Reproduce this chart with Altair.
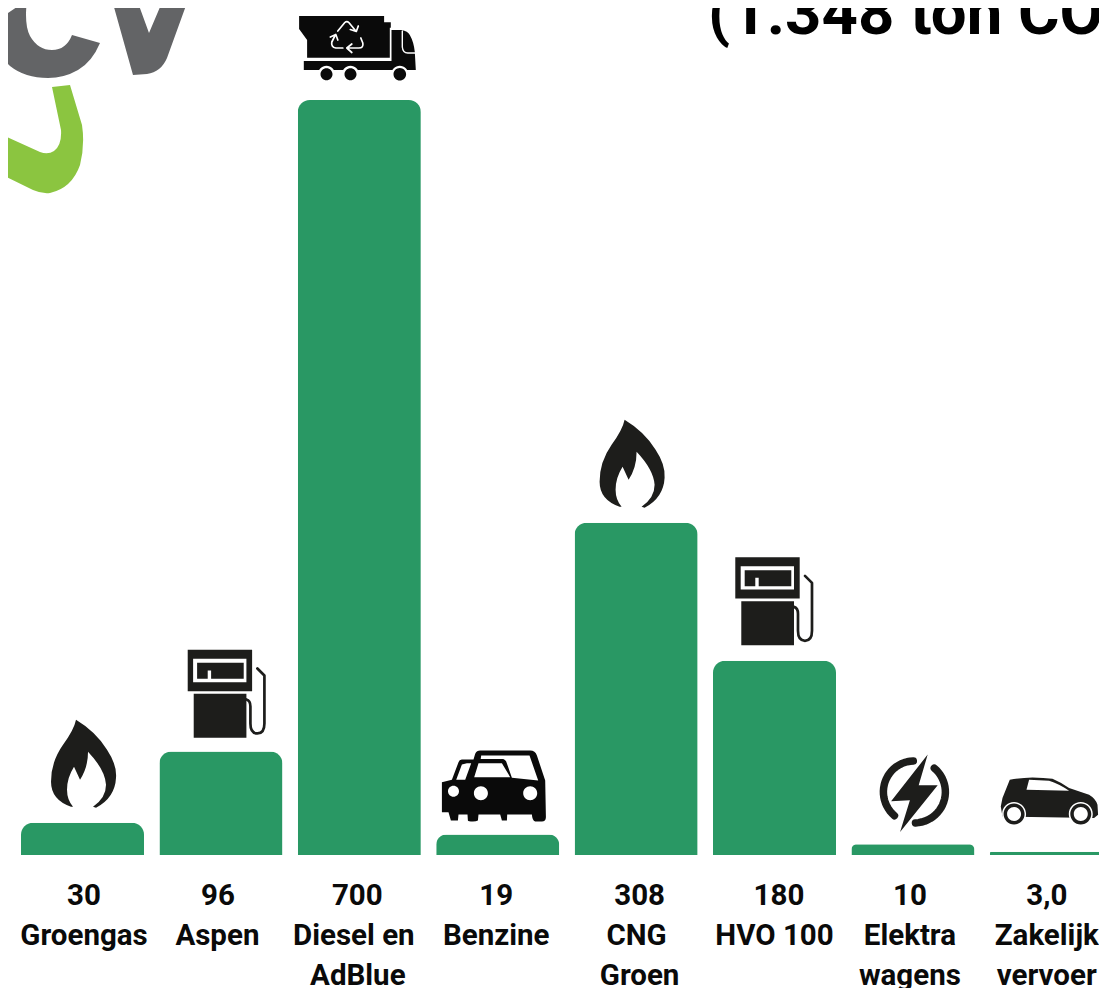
import math
import re
import altair as alt
import pandas as pd

# ---- chart values ----
categories = ["Groengas", "Aspen", "Diesel en AdBlue", "Benzine", "CNG Groen", "HVO 100", "Elektra wagens", "Zakelijk vervoer"]
values = [30, 96, 700, 19, 308, 180, 10, 3.0]
value_labels = ["30", "96", "700", "19", "308", "180", "10", "3,0"]
line_one = ["Groengas", "Aspen", "Diesel en", "Benzine", "CNG", "HVO 100", "Elektra", "Zakelijk"]
line_two = ["", "", "AdBlue", "", "Groen", "", "wagens", "vervoer"]
title_text = "(1.348 ton CO"

# ---- layout and style ----
GREEN = "#299864"
INK = "#1d1d1b"
BLACK = "#0a0a0a"
FONT = "Roboto"
MARGIN = 8
W, H = 1091, 980
BASE_Y, TOP_Y = 855 - MARGIN, 100 - MARGIN
DX_VALUE = [1.5, -3, -2, -1.5, 3.5, 4.5, -3, -4.5]
DX_ONE = [1.5, -3.5, -5.5, -1.5, 0.5, 0, -3, -4.5]
DX_TWO = [0, 0, -1.5, 0, 3.5, 0, -3, -4.5]
BASELINES = [905 - MARGIN, 945 - MARGIN, 985 - MARGIN]

df = pd.DataFrame({"cat": categories, "val": values})
x_enc = alt.X("cat:N", axis=None, sort=None, scale=alt.Scale(type="band", domain=categories, range=[13, 1104.8], paddingInner=0.111, paddingOuter=0))
y_enc = alt.Y("val:Q", axis=None, scale=alt.Scale(domain=[0, 700], range=[BASE_Y, TOP_Y], nice=False, zero=True))


def shift(path, ox, oy):
    out, is_x = [], True
    for tok in re.findall(r"[A-Za-z]|-?\d+\.?\d*", path):
        if tok.isalpha():
            out.append(tok)
            is_x = True
        else:
            out.append(f"{float(tok) - (ox if is_x else oy):.2f}")
            is_x = not is_x
    return " ".join(out)


def circle(cx, cy, r, ccw=False):
    k = 0.5523 * r
    s = -1 if ccw else 1
    return (f"M{cx},{cy - r} C{cx + s * k},{cy - r} {cx + s * r},{cy - k} {cx + s * r},{cy} "
            f"C{cx + s * r},{cy + k} {cx + s * k},{cy + r} {cx},{cy + r} "
            f"C{cx - s * k},{cy + r} {cx - s * r},{cy + k} {cx - s * r},{cy} "
            f"C{cx - s * r},{cy - k} {cx - s * k},{cy - r} {cx},{cy - r} Z ")


def arc(cx, cy, r, a0, a1, n=24):
    pts = []
    for i in range(n + 1):
        a = math.radians(a0 + (a1 - a0) * i / n)
        pts.append(f"{cx + r * math.cos(a):.2f},{cy + r * math.sin(a):.2f}")
    return "M" + " L".join(pts)


def icon(cat, path, origin, color=INK, dx=0, dy=0, stroke=None):
    shape = shift(path, *origin)
    kw = dict(shape=shape, size=4, opacity=1, color=color, xOffset=dx, yOffset=dy)
    if stroke:
        mark = alt.Chart(df[df.cat == cat]).mark_point(filled=False, strokeWidth=stroke, strokeCap="round", strokeJoin="round", **kw)
    else:
        mark = alt.Chart(df[df.cat == cat]).mark_point(filled=True, strokeWidth=0, **kw)
    return mark.encode(x=x_enc, y=y_enc)


def free_shape(path, color, stroke=None):
    shape = shift(path, MARGIN, MARGIN)
    return alt.Chart(pd.DataFrame({"a": [0]})).mark_point(filled=True, shape=shape, size=4, opacity=1, color=color, strokeWidth=0).encode(x=alt.value(0), y=alt.value(0))


layers = []

# logo
logo_c = "M-2,20 L27,0 Q24,25 30,36 Q38,50 52,50 Q66,50 72,35 L100,43 Q92,62 78,70 Q64,78 48,78 Q25,78 10,66 Q-2,55 -2,20 Z M72,0 L73,6 L88,0 Z"
logo_v = "M112,0 L137,0 L149,33 L163,0 L188,0 L167,58 Q161,72 147,74 L133,75 Z"
logo_g = "M52,87 L70,85 L82,125 Q85,145 80,165 Q72,188 50,193 Q42,194 33,190 L-4,172 L-4,132 L40,152 Q48,155 54,151 Q62,145 61,130 Z"
layers += [free_shape(logo_c + " " + logo_v, "#636466"), free_shape(logo_g, "#8bc540")]

# bars
layers.append(alt.Chart(df).mark_bar(color=GREEN, cornerRadiusTopLeft=12, cornerRadiusTopRight=12).encode(x=x_enc, y=y_enc))

# flame
flame = ("M625,420 Q645,432 656,450 Q666,465 665,478 Q664,498 645,508 L642,507 Q655,498 655,485 Q654,470 637,452 "
         "Q637,468 629,480 L623,467 Q616,478 616,490 Q616,500 622,507 L620,507 Q600,500 600,482 Q600,462 612,445 Q623,430 625,420 Z")
flame_o = (636.5, 523)
layers += [icon("CNG Groen", flame, flame_o), icon("Groengas", flame, flame_o, dx=5)]

# pump
def rect(x0, y0, x1, y1, ccw=False):
    if ccw:
        return f"M{x0},{y0} L{x0},{y1} L{x1},{y1} L{x1},{y0} Z "
    return f"M{x0},{y0} L{x1},{y0} L{x1},{y1} L{x0},{y1} Z "

pump = (rect(187.3, 649.3, 251.7, 690.7) + rect(192.7, 658.3, 246, 681.7, ccw=True) +
        "M196.7,662.3 L243.3,662.3 L243.3,678.3 L210.7,678.3 L210.7,670 L207.3,670 L207.3,678.3 L196.7,678.3 Z " +
        rect(193.3, 693.3, 246, 737.3))
hose = "M246,699 Q250,700 250,706 L250,723 Q250,733 257,733 Q264,733 264,723 L264,675 L257,668"
pump_o = (220.5, 751)
for cat, dx, dy in [("Aspen", 0, 0), ("HVO 100", -6, -2)]:
    layers += [icon(cat, pump, pump_o, dx=dx, dy=dy), icon(cat, hose, pump_o, dx=dx, dy=dy, stroke=2.7)]

# truck
truck_o = (359.5, 100)
truck = ("M299.3,16 L384.3,16 L384.3,22.3 L391,22.3 L391,27.7 L390,27.7 L390,57.7 L307.3,57.7 L307.3,40 L299.3,29 Z "
         "M391.7,30 L401.7,30 Q408,31 410,35 Q414,42 415,52 L416,70 L304,70 L304,61 L391.7,61 Z")
layers.append(icon("Diesel en AdBlue", truck, truck_o, color=BLACK))
layers.append(icon("Diesel en AdBlue", "M402.5,31 L402.5,47 Q403,53 408,53 L415.5,53", truck_o, color="#ffffff", stroke=1.4))
halo = circle(326.7, 74.3, 8.5) + circle(350.7, 74.3, 8.5) + circle(400, 74.3, 8.5)
wheels = circle(326.7, 74.3, 6) + circle(350.7, 74.3, 6) + circle(400, 74.3, 6.3)
layers.append(icon("Diesel en AdBlue", halo, truck_o, color="#ffffff"))
layers.append(icon("Diesel en AdBlue", wheels, truck_o, color=BLACK))
recycle = ("M338,31 L345,22.5 Q347,20.5 349,22.5 L356,31 M350.5,29.5 L356.5,31.5 L358.5,26 "
           "M361,38 L363,43 Q364,48 359,48 L348,48 M352,44 L347,48 L352,52.5 "
           "M343,48 L336,48 Q331,47 332,42 L335,36 M330.5,37 L336,34.5 L338,40")
layers.append(icon("Diesel en AdBlue", recycle, truck_o, color="#ffffff", stroke=1.7))

# two cars
cars_o = (497.5, 834)
cars = ("M441.7,781.7 L451.7,779.3 L458.3,761.7 Q459,759 461.7,759 L473.3,759 L475,753.3 Q476.5,750 480,750 L530,750 Q535,750 536.7,755 "
        "L545,780 L545.7,816.7 Q545.5,821 541.7,821 L535,821 Q532,820 531.7,814 L507,814 L506.7,820 L501.7,820 L500,814 L478.3,814 L477.7,820 "
        "Q476,821 472.7,821 Q468,821 467.7,820 L467.3,814 L458.3,814 L457.7,820 L450.7,820 L448.3,811.7 L441.7,811.7 Z "
        "M466.7,762.7 L461.7,764 L456,779.3 L465,779.3 L471,762.7 Z "
        "M478.3,762.7 L474,776.7 L510,776.7 L501.7,762.7 Z "
        "M481,755 L480.5,758.5 L503,758.5 Q505,759 506,761 L511.7,777.3 L538,780 L529.3,755 Z " +
        circle(453.3, 790.7, 5.5, ccw=True) + circle(480.7, 792.7, 7, ccw=True) + circle(530, 792.7, 7, ccw=True))
layers.append(icon("Benzine", cars, cars_o, color=BLACK))

# bolt
bolt_o = (913.5, 844)
bolt = "M928.3,754.3 L891.7,801 L910.5,800 L900.7,831.7 L938.3,785 L919.3,785 Z"
ring = arc(915, 791.7, 31, 268, 130) + " " + arc(915, 791.7, 31, -50, 88)
layers += [icon("Elektra wagens", bolt, bolt_o), icon("Elektra wagens", ring, bolt_o, stroke=7.5)]

# small car
car_o = (1051.5, 852)
car = ("M1005,806.7 L1006.7,798.3 L1014,780 Q1025,778 1036.7,777.7 Q1048,778 1056.7,779 Q1066,783 1073.3,788.3 L1093.3,795 "
       "Q1100,799 1101.7,805 L1102.3,815 L1098.3,818.3 L1006.7,816.7 Z "
       "M1033.3,780 L1030.7,790 L1073.3,791 Q1063,784 1053.3,781 Z")
layers.append(icon("Zakelijk vervoer", car, car_o, dx=-4))
c_halo = circle(1018.3, 814.3, 12) + circle(1085, 814.3, 12)
c_tyre = circle(1018.3, 814.3, 10.5) + circle(1085, 814.3, 10.5)
c_hub = circle(1018.3, 814.3, 7) + circle(1085, 814.3, 7)
layers += [icon("Zakelijk vervoer", c_halo, car_o, color="#ffffff", dx=-4), icon("Zakelijk vervoer", c_tyre, car_o, dx=-4),
           icon("Zakelijk vervoer", c_hub, car_o, color="#ffffff", dx=-4)]

# labels
for texts, dxs, base in [(value_labels, DX_VALUE, BASELINES[0]), (line_one, DX_ONE, BASELINES[1]), (line_two, DX_TWO, BASELINES[2])]:
    for cat, txt, dx in zip(categories, texts, dxs):
        if not txt:
            continue
        layers.append(
            alt.Chart(pd.DataFrame({"cat": [cat], "txt": [txt]}))
            .mark_text(font=FONT, fontWeight="bold", fontSize=29.5, color=BLACK, align="center", baseline="alphabetic", dx=dx)
            .encode(x=x_enc, y=alt.value(base), text="txt:N")
        )

# title
layers.append(
    alt.Chart(pd.DataFrame({"txt": [title_text]}))
    .mark_text(font=FONT, fontWeight="bold", fontSize=63.5, color="#000000", align="left", baseline="alphabetic")
    .encode(x=alt.value(700), y=alt.value(34 - MARGIN), text="txt:N")
)

chart = (
    alt.layer(*layers)
    .resolve_scale(x="shared", y="shared")
    .properties(width=W, height=H, padding=0, autosize=alt.AutoSizeParams(type="none"), background="#ffffff")
    .configure_view(strokeWidth=0)
)
chart.save("out.html", embed_options={"renderer": "svg", "actions": False})
